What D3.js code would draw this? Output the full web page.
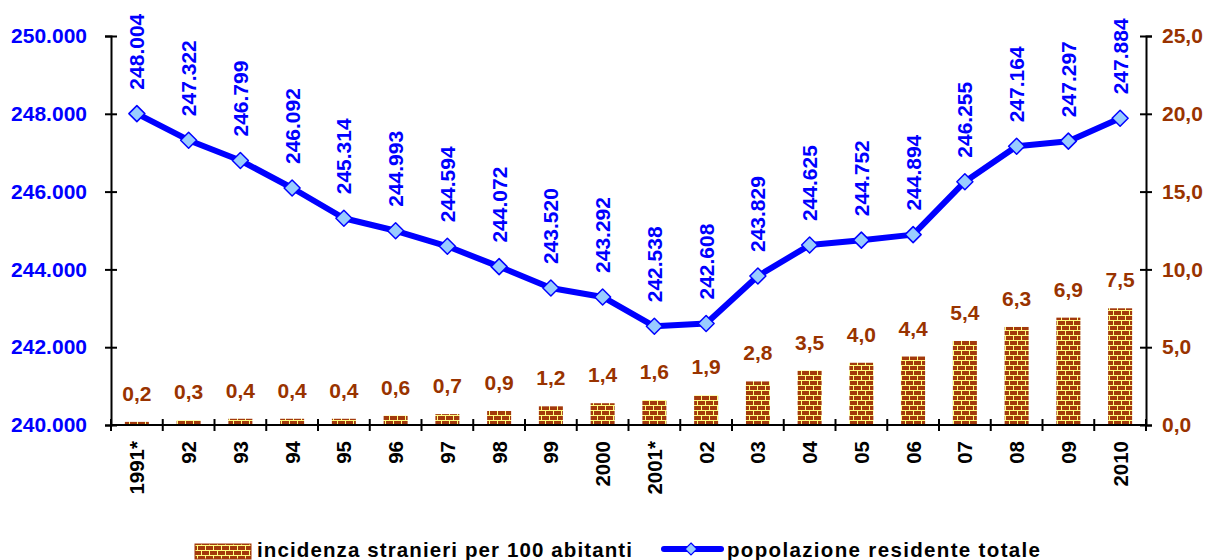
<!DOCTYPE html>
<html><head><meta charset="utf-8">
<script src="https://cdn.jsdelivr.net/npm/d3@7"></script>
<style>
body{margin:0;background:#fff;}
svg{display:block;font-family:"Liberation Sans",Arial,sans-serif;font-weight:bold;}
</style></head>
<body>
<svg id="c" width="1206" height="560"></svg>
<script>
const categories = ["1991*","92","93","94","95","96","97","98","99","2000","2001*","02","03","04","05","06","07","08","09","2010"];
const incidenza = [0.2,0.3,0.4,0.4,0.4,0.6,0.7,0.9,1.2,1.4,1.6,1.9,2.8,3.5,4.0,4.4,5.4,6.3,6.9,7.5];
const popolazione = [248004,247322,246799,246092,245314,244993,244594,244072,243520,243292,242538,242608,243829,244625,244752,244894,246255,247164,247297,247884];
const leftTicks = [240000,242000,244000,246000,248000,250000];
const rightTicks = [0,5,10,15,20,25];
const seriesNames = ["incidenza stranieri per 100 abitanti","popolazione residente totale"];

const svg = d3.select("#c");
const L = 111, R = 1146, T = 36, B = 425;
const blue = "#0000ff", brown = "#993300";

const defs = svg.append("defs");
const pat = defs.append("pattern").attr("id","brick").attr("patternUnits","userSpaceOnUse")
  .attr("width",8).attr("height",10);
pat.append("rect").attr("width",8).attr("height",10).attr("fill","#a3390b");
const pl = "#ffff80";
pat.append("line").attr("x1",0).attr("x2",8).attr("y1",0.5).attr("y2",0.5).attr("stroke",pl).attr("stroke-width",1);
pat.append("line").attr("x1",0).attr("x2",8).attr("y1",5.5).attr("y2",5.5).attr("stroke",pl).attr("stroke-width",1);
pat.append("line").attr("x1",1.5).attr("x2",1.5).attr("y1",0).attr("y2",5).attr("stroke",pl).attr("stroke-width",1);
pat.append("line").attr("x1",5.5).attr("x2",5.5).attr("y1",5).attr("y2",10).attr("stroke",pl).attr("stroke-width",1);

const x = d3.scaleBand().domain(categories).range([L,R]);
const yL = d3.scaleLinear().domain([240000,250000]).range([B,T]);
const yR = d3.scaleLinear().domain([0,25]).range([B,T]);
const fmtL = d => d3.format(",")(d).replace(/,/g,".");
const fmtR = d => d.toFixed(1).replace(".",",");

// bars
const bw = 24;
svg.append("g").selectAll("rect").data(incidenza).join("rect")
  .attr("x",(d,i)=>x(categories[i])+x.bandwidth()/2-bw/2)
  .attr("width",bw)
  .attr("y",d=>yR(d)).attr("height",d=>B-yR(d))
  .attr("fill","url(#brick)");

// bar labels
svg.append("g").selectAll("text").data(incidenza).join("text")
  .attr("x",(d,i)=>x(categories[i])+x.bandwidth()/2)
  .attr("y",d=>yR(d)-21)
  .attr("text-anchor","middle").attr("fill",brown).attr("font-size",21)
  .text(d=>fmtR(d));

// axes
const gL = svg.append("g").attr("transform",`translate(${L},0)`)
  .call(d3.axisLeft(yL).tickValues(leftTicks).tickFormat(fmtL).tickSize(6).tickPadding(18));
const gR = svg.append("g").attr("transform",`translate(${R},0)`)
  .call(d3.axisRight(yR).tickValues(rightTicks).tickFormat(fmtR).tickSize(6).tickPadding(10));
[gL,gR].forEach(g=>{
  g.select(".domain").attr("stroke","#000").attr("stroke-width",2);
  g.selectAll(".tick line").attr("stroke","#000").attr("stroke-width",2);
  g.attr("font-family",null).attr("font-size",21);
});
gL.selectAll(".tick line").attr("x1",6);
gR.selectAll(".tick line").attr("x1",-6);
gL.selectAll(".tick text").attr("fill",blue);
gR.selectAll(".tick text").attr("fill",brown);

// x axis
const gx = svg.append("g");
gx.append("line").attr("x1",L).attr("x2",R).attr("y1",B).attr("y2",B).attr("stroke","#000").attr("stroke-width",2);
const bounds = categories.map(c=>x(c)).concat([R]);
gx.selectAll("line.t").data(bounds).join("line").attr("class","t")
  .attr("x1",d=>d).attr("x2",d=>d).attr("y1",B-6).attr("y2",B+6).attr("stroke","#000").attr("stroke-width",2);
gx.selectAll("text").data(categories).join("text")
  .attr("transform",d=>`translate(${x(d)+x.bandwidth()/2},441) rotate(-90)`)
  .attr("text-anchor","end").attr("dy","0.36em").attr("font-size",20.5).attr("fill","#000")
  .text(d=>d);

// line
const line = d3.line().x((d,i)=>x(categories[i])+x.bandwidth()/2).y(d=>yL(d));
svg.append("path").datum(popolazione).attr("d",line).attr("fill","none")
  .attr("stroke",blue).attr("stroke-width",6).attr("stroke-linejoin","round");
const diamond = "M0,-8L8,0L0,8L-8,0Z";
svg.append("g").selectAll("path").data(popolazione).join("path")
  .attr("transform",(d,i)=>`translate(${x(categories[i])+x.bandwidth()/2},${yL(d)})`)
  .attr("d",diamond).attr("fill","#99ccff").attr("stroke",blue).attr("stroke-width",1.5).attr("stroke-linejoin","round");

// line labels
svg.append("g").selectAll("text").data(popolazione).join("text")
  .attr("transform",(d,i)=>`translate(${x(categories[i])+x.bandwidth()/2},${yL(d)-24}) rotate(-90)`)
  .attr("text-anchor","start").attr("dy","0.36em").attr("font-size",21).attr("fill",blue)
  .text(d=>fmtL(d));

// legend
const lg = svg.append("g");
lg.append("rect").attr("x",195).attr("y",544).attr("width",56).attr("height",15)
  .attr("fill","url(#brick)").attr("stroke","#a3390b").attr("stroke-width",1);
lg.append("text").attr("x",257).attr("y",557).attr("font-size",20.5).attr("fill","#000")
  .attr("textLength",375).attr("lengthAdjust","spacing").text(seriesNames[0]);
lg.append("line").attr("x1",664).attr("x2",721).attr("y1",549).attr("y2",549)
  .attr("stroke",blue).attr("stroke-width",6).attr("stroke-linecap","round");
lg.append("path").attr("transform","translate(691,549)").attr("d","M0,-6L6,0L0,6L-6,0Z")
  .attr("fill","#99ccff").attr("stroke",blue).attr("stroke-width",1.2);
lg.append("text").attr("x",727).attr("y",557).attr("font-size",20.5).attr("fill","#000")
  .attr("textLength",313).attr("lengthAdjust","spacing").text(seriesNames[1]);
</script>
</body></html>
